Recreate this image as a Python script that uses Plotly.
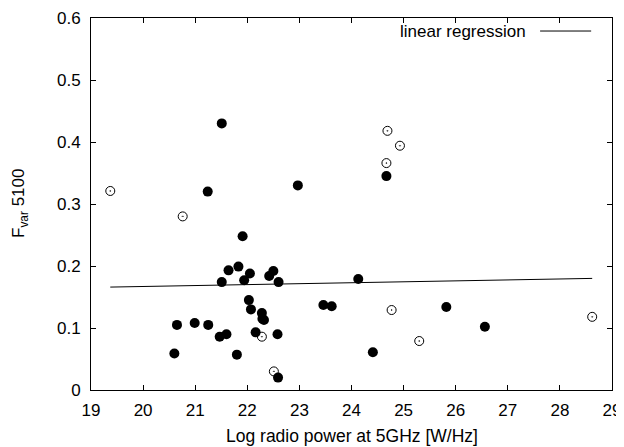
import plotly.graph_objects as go

# Filled points (Log radio power, Fvar 5100)
filled_x = [21.51, 21.24, 21.91, 21.64, 21.83, 22.05, 21.51, 21.94, 22.03, 22.07,
            20.65, 20.99, 21.25, 21.47, 21.60, 22.16, 20.60, 21.80,
            22.42, 22.50, 22.60, 22.97, 22.28, 22.29, 22.32, 22.58, 22.59,
            23.46, 23.62, 24.13, 24.41, 24.67, 25.82, 26.56]
filled_y = [0.430, 0.320, 0.248, 0.193, 0.199, 0.188, 0.174, 0.177, 0.145, 0.130,
            0.105, 0.108, 0.105, 0.086, 0.090, 0.093, 0.059, 0.057,
            0.184, 0.192, 0.174, 0.330, 0.124, 0.115, 0.113, 0.090, 0.020,
            0.137, 0.135, 0.179, 0.061, 0.345, 0.134, 0.102]

# Open points
open_x = [19.37, 20.76, 22.28, 22.51, 24.69, 24.93, 24.67, 24.77, 25.30, 28.62]
open_y = [0.321, 0.280, 0.086, 0.030, 0.418, 0.394, 0.366, 0.129, 0.079, 0.118]

# Linear regression endpoints
reg_x = [19.37, 28.62]
reg_y = [0.166, 0.180]

x_ticks = [19, 20, 21, 22, 23, 24, 25, 26, 27, 28, 29]
y_ticks = [0, 0.1, 0.2, 0.3, 0.4, 0.5, 0.6]
y_tick_labels = ["0", "0.1", "0.2", "0.3", "0.4", "0.5", "0.6"]

FONT = "Liberation Sans, Arial, sans-serif"
FS = 17

fig = go.Figure()
fig.add_trace(go.Scatter(x=reg_x, y=reg_y, mode="lines",
                         line=dict(color="black", width=1), showlegend=False))
fig.add_trace(go.Scatter(x=filled_x, y=filled_y, mode="markers",
                         marker=dict(symbol="circle", size=10, color="black",
                                     line=dict(width=0)), showlegend=False))
fig.add_trace(go.Scatter(x=open_x, y=open_y, mode="markers",
                         marker=dict(symbol="circle-open-dot", size=9, color="black",
                                     line=dict(width=1)), showlegend=False))

# legend entry
fig.add_annotation(text="linear regression", xref="paper", yref="paper",
                   x=0.838, y=0.965, xanchor="right", yanchor="middle",
                   showarrow=False, font=dict(family=FONT, size=FS, color="black"))
fig.add_shape(type="line", xref="paper", yref="paper",
              x0=0.862, x1=0.96, y0=0.965, y1=0.965,
              line=dict(color="black", width=1))

# axis titles
fig.add_annotation(text="Log radio power at 5GHz [W/Hz]", xref="paper", yref="paper",
                   x=0.5, y=0, yshift=-34, xanchor="center", yanchor="top",
                   showarrow=False, font=dict(family=FONT, size=17.5, color="black"))
fig.add_annotation(text="F<sub>var</sub> 5100", xref="paper", yref="paper",
                   x=0, xshift=-71, y=0.5, xanchor="center", yanchor="middle",
                   textangle=-90, showarrow=False,
                   font=dict(family=FONT, size=FS, color="black"))

axis_common = dict(showline=True, linecolor="black", linewidth=1, mirror="allticks",
                   ticks="inside", ticklen=5, tickcolor="black", showgrid=False,
                   zeroline=False, automargin=False,
                   tickfont=dict(family=FONT, size=FS, color="black"))

fig.update_xaxes(range=[19, 29], tickvals=x_ticks, ticklabelstandoff=5, **axis_common)
fig.update_yaxes(range=[0, 0.6], tickvals=y_ticks, ticktext=y_tick_labels,
                 ticklabelstandoff=6, **axis_common)

# page body adds an 8px offset, so the figure is sized/margined to compensate
fig.update_layout(width=616, height=439, plot_bgcolor="white", paper_bgcolor="white",
                  margin=dict(l=83, r=12, t=10, b=57), showlegend=False)

fig.write_html("out.html")
